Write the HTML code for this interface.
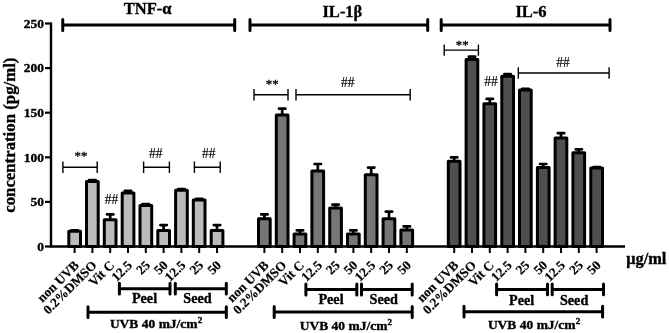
<!DOCTYPE html>
<html><head><meta charset="utf-8"><title>chart</title><style>html,body{margin:0;padding:0;background:#fff}</style></head><body>
<svg width="669" height="333" viewBox="0 0 669 333" style="display:block">
<rect width="669" height="333" fill="#fff"/>
<g font-family="'Liberation Serif', 'Times New Roman', serif" font-weight="bold" fill="#000" stroke="#000" stroke-width="0.35">
<path d="M74.6 231.3V230.4M71.4 230.4H77.8" stroke="#000" stroke-width="2.7" fill="none" stroke-linecap="round"/>
<rect x="68.8" y="231.3" width="11.7" height="15.2" fill="#bbbbbb" stroke="#000" stroke-width="3" stroke-linejoin="round"/>
<path d="M74.6 246.5V253.0" stroke="#000" stroke-width="2"/>
<path d="M92.4 181.4V180.0M89.2 180.0H95.6" stroke="#000" stroke-width="2.7" fill="none" stroke-linecap="round"/>
<rect x="86.5" y="181.4" width="11.7" height="65.1" fill="#bbbbbb" stroke="#000" stroke-width="3" stroke-linejoin="round"/>
<path d="M92.4 246.5V253.0" stroke="#000" stroke-width="2"/>
<path d="M110.2 219.7V214.4M107.0 214.4H113.4" stroke="#000" stroke-width="2.7" fill="none" stroke-linecap="round"/>
<rect x="104.3" y="219.7" width="11.7" height="26.8" fill="#bbbbbb" stroke="#000" stroke-width="3" stroke-linejoin="round"/>
<path d="M110.2 246.5V253.0" stroke="#000" stroke-width="2"/>
<path d="M128.0 193.0V190.8M124.8 190.8H131.2" stroke="#000" stroke-width="2.7" fill="none" stroke-linecap="round"/>
<rect x="122.2" y="193.0" width="11.7" height="53.5" fill="#bbbbbb" stroke="#000" stroke-width="3" stroke-linejoin="round"/>
<path d="M128.0 246.5V253.0" stroke="#000" stroke-width="2"/>
<path d="M145.8 205.5V204.1M142.6 204.1H149.0" stroke="#000" stroke-width="2.7" fill="none" stroke-linecap="round"/>
<rect x="140.0" y="205.5" width="11.7" height="41.0" fill="#bbbbbb" stroke="#000" stroke-width="3" stroke-linejoin="round"/>
<path d="M145.8 246.5V253.0" stroke="#000" stroke-width="2"/>
<path d="M163.6 230.4V225.1M160.4 225.1H166.8" stroke="#000" stroke-width="2.7" fill="none" stroke-linecap="round"/>
<rect x="157.8" y="230.4" width="11.7" height="16.1" fill="#bbbbbb" stroke="#000" stroke-width="3" stroke-linejoin="round"/>
<path d="M163.6 246.5V253.0" stroke="#000" stroke-width="2"/>
<path d="M181.4 190.3V189.0M178.2 189.0H184.6" stroke="#000" stroke-width="2.7" fill="none" stroke-linecap="round"/>
<rect x="175.6" y="190.3" width="11.7" height="56.2" fill="#bbbbbb" stroke="#000" stroke-width="3" stroke-linejoin="round"/>
<path d="M181.4 246.5V253.0" stroke="#000" stroke-width="2"/>
<path d="M199.2 200.1V198.8M196.0 198.8H202.4" stroke="#000" stroke-width="2.7" fill="none" stroke-linecap="round"/>
<rect x="193.3" y="200.1" width="11.7" height="46.4" fill="#bbbbbb" stroke="#000" stroke-width="3" stroke-linejoin="round"/>
<path d="M199.2 246.5V253.0" stroke="#000" stroke-width="2"/>
<path d="M217.0 230.4V225.1M213.8 225.1H220.2" stroke="#000" stroke-width="2.7" fill="none" stroke-linecap="round"/>
<rect x="211.2" y="230.4" width="11.7" height="16.1" fill="#bbbbbb" stroke="#000" stroke-width="3" stroke-linejoin="round"/>
<path d="M217.0 246.5V253.0" stroke="#000" stroke-width="2"/>
<path d="M264.4 218.8V214.4M261.2 214.4H267.6" stroke="#000" stroke-width="2.7" fill="none" stroke-linecap="round"/>
<rect x="258.5" y="218.8" width="11.7" height="27.7" fill="#767676" stroke="#000" stroke-width="3" stroke-linejoin="round"/>
<path d="M264.4 246.5V253.0" stroke="#000" stroke-width="2"/>
<path d="M282.2 114.9V108.7M279.0 108.7H285.4" stroke="#000" stroke-width="2.7" fill="none" stroke-linecap="round"/>
<rect x="276.3" y="114.9" width="11.7" height="131.6" fill="#767676" stroke="#000" stroke-width="3" stroke-linejoin="round"/>
<path d="M282.2 246.5V253.0" stroke="#000" stroke-width="2"/>
<path d="M300.0 234.0V230.4M296.8 230.4H303.2" stroke="#000" stroke-width="2.7" fill="none" stroke-linecap="round"/>
<rect x="294.1" y="234.0" width="11.7" height="12.5" fill="#767676" stroke="#000" stroke-width="3" stroke-linejoin="round"/>
<path d="M300.0 246.5V253.0" stroke="#000" stroke-width="2"/>
<path d="M317.8 171.1V164.0M314.6 164.0H321.0" stroke="#000" stroke-width="2.7" fill="none" stroke-linecap="round"/>
<rect x="311.9" y="171.1" width="11.7" height="75.4" fill="#767676" stroke="#000" stroke-width="3" stroke-linejoin="round"/>
<path d="M317.8 246.5V253.0" stroke="#000" stroke-width="2"/>
<path d="M335.6 208.1V204.6M332.4 204.6H338.8" stroke="#000" stroke-width="2.7" fill="none" stroke-linecap="round"/>
<rect x="329.7" y="208.1" width="11.7" height="38.4" fill="#767676" stroke="#000" stroke-width="3" stroke-linejoin="round"/>
<path d="M335.6 246.5V253.0" stroke="#000" stroke-width="2"/>
<path d="M353.4 234.0V230.4M350.2 230.4H356.6" stroke="#000" stroke-width="2.7" fill="none" stroke-linecap="round"/>
<rect x="347.5" y="234.0" width="11.7" height="12.5" fill="#767676" stroke="#000" stroke-width="3" stroke-linejoin="round"/>
<path d="M353.4 246.5V253.0" stroke="#000" stroke-width="2"/>
<path d="M371.2 174.7V167.6M368.0 167.6H374.4" stroke="#000" stroke-width="2.7" fill="none" stroke-linecap="round"/>
<rect x="365.3" y="174.7" width="11.7" height="71.8" fill="#767676" stroke="#000" stroke-width="3" stroke-linejoin="round"/>
<path d="M371.2 246.5V253.0" stroke="#000" stroke-width="2"/>
<path d="M389.0 218.8V211.7M385.8 211.7H392.2" stroke="#000" stroke-width="2.7" fill="none" stroke-linecap="round"/>
<rect x="383.1" y="218.8" width="11.7" height="27.7" fill="#767676" stroke="#000" stroke-width="3" stroke-linejoin="round"/>
<path d="M389.0 246.5V253.0" stroke="#000" stroke-width="2"/>
<path d="M406.8 230.0V226.4M403.6 226.4H410.0" stroke="#000" stroke-width="2.7" fill="none" stroke-linecap="round"/>
<rect x="400.9" y="230.0" width="11.7" height="16.5" fill="#767676" stroke="#000" stroke-width="3" stroke-linejoin="round"/>
<path d="M406.8 246.5V253.0" stroke="#000" stroke-width="2"/>
<path d="M454.2 161.3V157.3M451.0 157.3H457.4" stroke="#000" stroke-width="2.7" fill="none" stroke-linecap="round"/>
<rect x="448.3" y="161.3" width="11.7" height="85.2" fill="#4f4f4f" stroke="#000" stroke-width="3" stroke-linejoin="round"/>
<path d="M454.2 246.5V253.0" stroke="#000" stroke-width="2"/>
<path d="M472.0 59.4V56.7M468.8 56.7H475.2" stroke="#000" stroke-width="2.7" fill="none" stroke-linecap="round"/>
<rect x="466.1" y="59.4" width="11.7" height="187.1" fill="#4f4f4f" stroke="#000" stroke-width="3" stroke-linejoin="round"/>
<path d="M472.0 246.5V253.0" stroke="#000" stroke-width="2"/>
<path d="M489.8 103.8V98.9M486.6 98.9H493.0" stroke="#000" stroke-width="2.7" fill="none" stroke-linecap="round"/>
<rect x="483.9" y="103.8" width="11.7" height="142.7" fill="#4f4f4f" stroke="#000" stroke-width="3" stroke-linejoin="round"/>
<path d="M489.8 246.5V253.0" stroke="#000" stroke-width="2"/>
<path d="M507.6 76.3V74.1M504.4 74.1H510.8" stroke="#000" stroke-width="2.7" fill="none" stroke-linecap="round"/>
<rect x="501.8" y="76.3" width="11.7" height="170.2" fill="#4f4f4f" stroke="#000" stroke-width="3" stroke-linejoin="round"/>
<path d="M507.6 246.5V253.0" stroke="#000" stroke-width="2"/>
<path d="M525.4 90.0V88.9M522.2 88.9H528.6" stroke="#000" stroke-width="2.7" fill="none" stroke-linecap="round"/>
<rect x="519.5" y="90.0" width="11.7" height="156.5" fill="#4f4f4f" stroke="#000" stroke-width="3" stroke-linejoin="round"/>
<path d="M525.4 246.5V253.0" stroke="#000" stroke-width="2"/>
<path d="M543.2 167.6V164.0M540.0 164.0H546.4" stroke="#000" stroke-width="2.7" fill="none" stroke-linecap="round"/>
<rect x="537.4" y="167.6" width="11.7" height="78.9" fill="#4f4f4f" stroke="#000" stroke-width="3" stroke-linejoin="round"/>
<path d="M543.2 246.5V253.0" stroke="#000" stroke-width="2"/>
<path d="M561.0 138.1V133.2M557.8 133.2H564.2" stroke="#000" stroke-width="2.7" fill="none" stroke-linecap="round"/>
<rect x="555.1" y="138.1" width="11.7" height="108.4" fill="#4f4f4f" stroke="#000" stroke-width="3" stroke-linejoin="round"/>
<path d="M561.0 246.5V253.0" stroke="#000" stroke-width="2"/>
<path d="M578.8 152.8V149.3M575.6 149.3H582.0" stroke="#000" stroke-width="2.7" fill="none" stroke-linecap="round"/>
<rect x="572.9" y="152.8" width="11.7" height="93.7" fill="#4f4f4f" stroke="#000" stroke-width="3" stroke-linejoin="round"/>
<path d="M578.8 246.5V253.0" stroke="#000" stroke-width="2"/>
<path d="M596.6 168.0V167.1M593.4 167.1H599.8" stroke="#000" stroke-width="2.7" fill="none" stroke-linecap="round"/>
<rect x="590.8" y="168.0" width="11.7" height="78.5" fill="#4f4f4f" stroke="#000" stroke-width="3" stroke-linejoin="round"/>
<path d="M596.6 246.5V253.0" stroke="#000" stroke-width="2"/>
<path d="M51 22.5V246.5H625" stroke="#000" stroke-width="2.4" fill="none" stroke-linejoin="miter"/>
<path d="M45 246.5H51" stroke="#000" stroke-width="2.2"/>
<text x="44" y="250.8" font-size="13.5" text-anchor="end">0</text>
<path d="M45 201.9H51" stroke="#000" stroke-width="2.2"/>
<text x="44" y="206.2" font-size="13.5" text-anchor="end">50</text>
<path d="M45 157.3H51" stroke="#000" stroke-width="2.2"/>
<text x="44" y="161.6" font-size="13.5" text-anchor="end">100</text>
<path d="M45 112.7H51" stroke="#000" stroke-width="2.2"/>
<text x="44" y="117.0" font-size="13.5" text-anchor="end">150</text>
<path d="M45 68.1H51" stroke="#000" stroke-width="2.2"/>
<text x="44" y="72.4" font-size="13.5" text-anchor="end">200</text>
<path d="M45 23.5H51" stroke="#000" stroke-width="2.2"/>
<text x="44" y="27.8" font-size="13.5" text-anchor="end">250</text>
<text transform="translate(14.5,135.2) rotate(-90)" font-size="16.8" text-anchor="middle">concentration (pg/ml)</text>
<path d="M62.75 25H234.7M62.75 19.6V30.4M234.7 19.6V30.4" stroke="#000" stroke-width="3.0" fill="none" stroke-linecap="round"/>
<text x="147.7" y="14.2" font-size="16.5" text-anchor="middle">TNF-α</text>
<text transform="translate(79.6,266) rotate(-45)" font-size="13.2" stroke-width="0.2" text-anchor="end">non UVB</text>
<text transform="translate(97.4,266) rotate(-45)" font-size="13.2" stroke-width="0.2" text-anchor="end">0.2%DMSO</text>
<text transform="translate(115.2,266) rotate(-45)" font-size="13.2" stroke-width="0.2" text-anchor="end">Vit C</text>
<text transform="translate(133.0,266) rotate(-45)" font-size="13.2" stroke-width="0.2" text-anchor="end">12.5</text>
<text transform="translate(150.8,266) rotate(-45)" font-size="13.2" stroke-width="0.2" text-anchor="end">25</text>
<text transform="translate(168.6,266) rotate(-45)" font-size="13.2" stroke-width="0.2" text-anchor="end">50</text>
<text transform="translate(186.4,266) rotate(-45)" font-size="13.2" stroke-width="0.2" text-anchor="end">12.5</text>
<text transform="translate(204.2,266) rotate(-45)" font-size="13.2" stroke-width="0.2" text-anchor="end">25</text>
<text transform="translate(222.0,266) rotate(-45)" font-size="13.2" stroke-width="0.2" text-anchor="end">50</text>
<path d="M119.4 288.7H170M119.4 283.3V294.09999999999997M170 283.3V294.09999999999997" stroke="#000" stroke-width="3.0" fill="none" stroke-linecap="round"/>
<path d="M175.3 288.7H226.3M175.3 283.3V294.09999999999997M226.3 283.3V294.09999999999997" stroke="#000" stroke-width="3.0" fill="none" stroke-linecap="round"/>
<path d="M88 312.2H226.3M88 306.8V317.59999999999997M226.3 306.8V317.59999999999997" stroke="#000" stroke-width="3.0" fill="none" stroke-linecap="round"/>
<text x="144.5" y="303" font-size="14.2" text-anchor="middle">Peel</text>
<text x="197.5" y="303" font-size="14.2" text-anchor="middle">Seed</text>
<text x="156" y="328" font-size="13.5" text-anchor="middle">UVB 40 mJ/cm<tspan dy="-5" font-size="9">2</tspan></text>
<path d="M250 25H427.7M250 19.6V30.4M427.7 19.6V30.4" stroke="#000" stroke-width="3.0" fill="none" stroke-linecap="round"/>
<text x="342.4" y="16.8" font-size="16.5" text-anchor="middle">IL-1β</text>
<text transform="translate(269.4,266) rotate(-45)" font-size="13.2" stroke-width="0.2" text-anchor="end">non UVB</text>
<text transform="translate(287.2,266) rotate(-45)" font-size="13.2" stroke-width="0.2" text-anchor="end">0.2%DMSO</text>
<text transform="translate(305.0,266) rotate(-45)" font-size="13.2" stroke-width="0.2" text-anchor="end">Vit C</text>
<text transform="translate(322.8,266) rotate(-45)" font-size="13.2" stroke-width="0.2" text-anchor="end">12.5</text>
<text transform="translate(340.6,266) rotate(-45)" font-size="13.2" stroke-width="0.2" text-anchor="end">25</text>
<text transform="translate(358.4,266) rotate(-45)" font-size="13.2" stroke-width="0.2" text-anchor="end">50</text>
<text transform="translate(376.2,266) rotate(-45)" font-size="13.2" stroke-width="0.2" text-anchor="end">12.5</text>
<text transform="translate(394.0,266) rotate(-45)" font-size="13.2" stroke-width="0.2" text-anchor="end">25</text>
<text transform="translate(411.8,266) rotate(-45)" font-size="13.2" stroke-width="0.2" text-anchor="end">50</text>
<path d="M305.9 289.5H356.8M305.9 284.1V294.9M356.8 284.1V294.9" stroke="#000" stroke-width="3.0" fill="none" stroke-linecap="round"/>
<path d="M361.5 289.5H412.2M361.5 284.1V294.9M412.2 284.1V294.9" stroke="#000" stroke-width="3.0" fill="none" stroke-linecap="round"/>
<path d="M274.2 312H412.2M274.2 306.6V317.4M412.2 306.6V317.4" stroke="#000" stroke-width="3.0" fill="none" stroke-linecap="round"/>
<text x="331" y="304" font-size="14.2" text-anchor="middle">Peel</text>
<text x="383.7" y="304" font-size="14.2" text-anchor="middle">Seed</text>
<text x="345.8" y="329.7" font-size="13.5" text-anchor="middle">UVB 40 mJ/cm<tspan dy="-5" font-size="9">2</tspan></text>
<path d="M441.2 25H610M441.2 19.6V30.4M610 19.6V30.4" stroke="#000" stroke-width="3.0" fill="none" stroke-linecap="round"/>
<text x="531" y="17" font-size="16.5" text-anchor="middle">IL-6</text>
<text transform="translate(459.2,266) rotate(-45)" font-size="13.2" stroke-width="0.2" text-anchor="end">non UVB</text>
<text transform="translate(477.0,266) rotate(-45)" font-size="13.2" stroke-width="0.2" text-anchor="end">0.2%DMSO</text>
<text transform="translate(494.8,266) rotate(-45)" font-size="13.2" stroke-width="0.2" text-anchor="end">Vit C</text>
<text transform="translate(512.6,266) rotate(-45)" font-size="13.2" stroke-width="0.2" text-anchor="end">12.5</text>
<text transform="translate(530.4,266) rotate(-45)" font-size="13.2" stroke-width="0.2" text-anchor="end">25</text>
<text transform="translate(548.2,266) rotate(-45)" font-size="13.2" stroke-width="0.2" text-anchor="end">50</text>
<text transform="translate(566.0,266) rotate(-45)" font-size="13.2" stroke-width="0.2" text-anchor="end">12.5</text>
<text transform="translate(583.8,266) rotate(-45)" font-size="13.2" stroke-width="0.2" text-anchor="end">25</text>
<text transform="translate(601.6,266) rotate(-45)" font-size="13.2" stroke-width="0.2" text-anchor="end">50</text>
<path d="M496.6 289.4H547.5M496.6 284.0V294.79999999999995M547.5 284.0V294.79999999999995" stroke="#000" stroke-width="3.0" fill="none" stroke-linecap="round"/>
<path d="M552.2 289.4H603.5M552.2 284.0V294.79999999999995M603.5 284.0V294.79999999999995" stroke="#000" stroke-width="3.0" fill="none" stroke-linecap="round"/>
<path d="M464 311.7H602.6M464 306.3V317.09999999999997M602.6 306.3V317.09999999999997" stroke="#000" stroke-width="3.0" fill="none" stroke-linecap="round"/>
<text x="521.7" y="304.5" font-size="14.2" text-anchor="middle">Peel</text>
<text x="574.1" y="304.5" font-size="14.2" text-anchor="middle">Seed</text>
<text x="534" y="328.8" font-size="13.5" text-anchor="middle">UVB 40 mJ/cm<tspan dy="-5" font-size="9">2</tspan></text>
<text x="646.3" y="264" font-size="16.4" text-anchor="middle">μg/ml</text>
<g font-weight="normal" text-anchor="middle" stroke="none">
<path d="M62.9 167.2H97.2M62.9 161.5V172.89999999999998M97.2 161.5V172.89999999999998" stroke="#000" stroke-width="1.4" fill="none"/>
<text x="81" y="159.7" font-size="12.8" stroke="#000" stroke-width="0.35">**</text>
<path d="M143.6 167.2H169.4M143.6 161.5V172.89999999999998M169.4 161.5V172.89999999999998" stroke="#000" stroke-width="1.4" fill="none"/>
<text transform="translate(155.8,158.3) scale(1,1.08)" font-size="13.5" stroke="#000" stroke-width="0.15">##</text>
<path d="M194.4 167.2H220.2M194.4 161.5V172.89999999999998M220.2 161.5V172.89999999999998" stroke="#000" stroke-width="1.4" fill="none"/>
<text transform="translate(208.8,158.3) scale(1,1.08)" font-size="13.5" stroke="#000" stroke-width="0.15">##</text>
<text transform="translate(111.5,204.4) scale(1,1.08)" font-size="13.5" stroke="#000" stroke-width="0.15">##</text>
<path d="M254 94.8H288M254 89.1V100.5M288 89.1V100.5" stroke="#000" stroke-width="1.4" fill="none"/>
<text x="272.2" y="87.8" font-size="12.8" stroke="#000" stroke-width="0.35">**</text>
<path d="M296 94.8H410.2M296 89.1V100.5M410.2 89.1V100.5" stroke="#000" stroke-width="1.4" fill="none"/>
<text transform="translate(347.8,87.3) scale(1,1.08)" font-size="13.5" stroke="#000" stroke-width="0.15">##</text>
<path d="M444.2 50.1H478.4M444.2 44.4V55.800000000000004M478.4 44.4V55.800000000000004" stroke="#000" stroke-width="1.4" fill="none"/>
<text x="462.2" y="48.6" font-size="12.8" stroke="#000" stroke-width="0.35">**</text>
<path d="M518.3 73H609.1M518.3 67.3V78.7M609.1 67.3V78.7" stroke="#000" stroke-width="1.4" fill="none"/>
<text transform="translate(563,67.3) scale(1,1.08)" font-size="13.5" stroke="#000" stroke-width="0.15">##</text>
<text transform="translate(491,85.6) scale(1,1.08)" font-size="13.5" stroke="#000" stroke-width="0.15">##</text>
</g>
</g></svg>
</body></html>
